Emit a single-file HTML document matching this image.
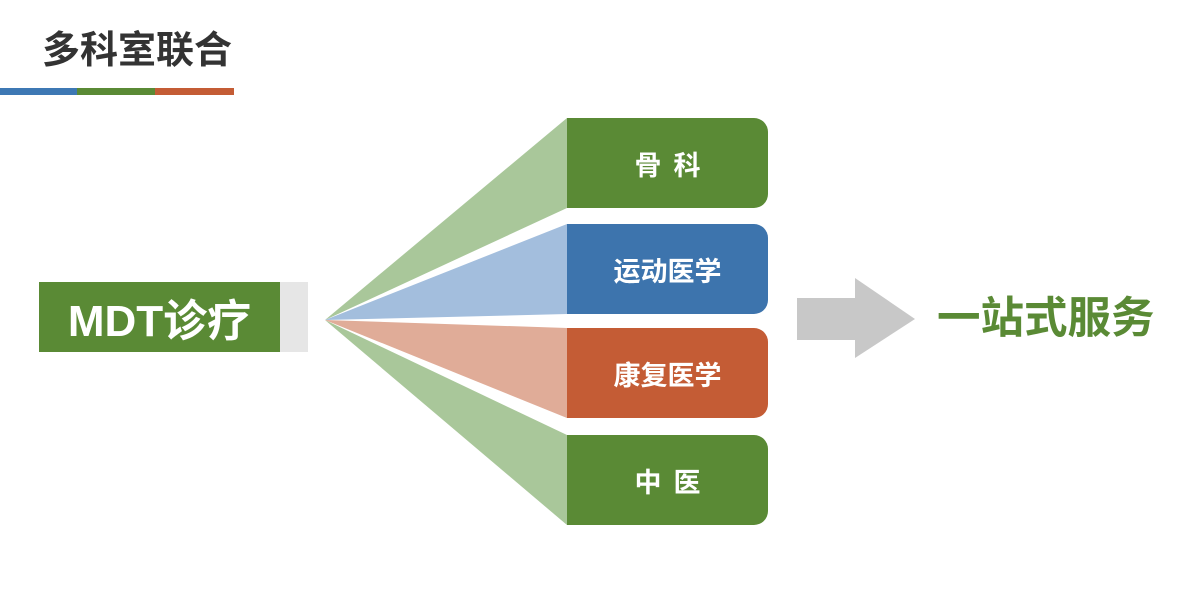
<!DOCTYPE html>
<html><head><meta charset="utf-8"><style>
body{margin:0;width:1200px;height:600px;background:#fff;position:relative;overflow:hidden;font-family:"Liberation Sans","Noto Sans CJK SC",sans-serif;}
.t{position:absolute;font-weight:bold;white-space:nowrap;}
.box{position:absolute;left:567px;width:201px;height:90px;border-radius:0 14px 14px 0;color:#fff;font-weight:bold;font-size:27px;display:flex;align-items:center;justify-content:center;}
</style></head><body>
<div class="t" style="left:42px;top:28px;font-size:38px;color:#333;line-height:46px;">多科室联合</div>
<div style="position:absolute;left:0;top:88px;width:77px;height:7px;background:#3d78b4"></div>
<div style="position:absolute;left:77px;top:88px;width:78px;height:7px;background:#5a8a35"></div>
<div style="position:absolute;left:155px;top:88px;width:79px;height:7px;background:#c45c35"></div>
<svg style="position:absolute;left:0;top:0" width="1200" height="600">
<polygon points="325,320 567,118 567,208" fill="#a9c79a"/>
<polygon points="325,320 567,224 567,314" fill="#a3bedd"/>
<polygon points="325,320 567,328 567,418" fill="#e0ac98"/>
<polygon points="325,320 567,435 567,525" fill="#a9c79a"/>
<polygon points="797,298 855,298 855,278 915,319 855,358 855,340 797,340" fill="#c8c8c8"/>
</svg>
<div style="position:absolute;left:280px;top:282px;width:28px;height:70px;background:#e6e6e6"></div>
<div style="position:absolute;left:39px;top:282px;width:241px;height:70px;background:#5a8a35;color:#fff;font-weight:bold;font-size:44px;display:flex;align-items:center;justify-content:center;">MDT诊疗</div>
<div class="box" style="top:118px;background:#5a8a35;letter-spacing:12px;padding-left:12px;box-sizing:border-box">骨科</div>
<div class="box" style="top:224px;background:#3d74ad">运动医学</div>
<div class="box" style="top:328px;background:#c45c35">康复医学</div>
<div class="box" style="top:435px;background:#5a8a35;letter-spacing:12px;padding-left:12px;box-sizing:border-box">中医</div>
<div class="t" style="left:937px;top:293px;font-size:43.5px;color:#5a8a35;line-height:52px;">一站式服务</div>
</body></html>
